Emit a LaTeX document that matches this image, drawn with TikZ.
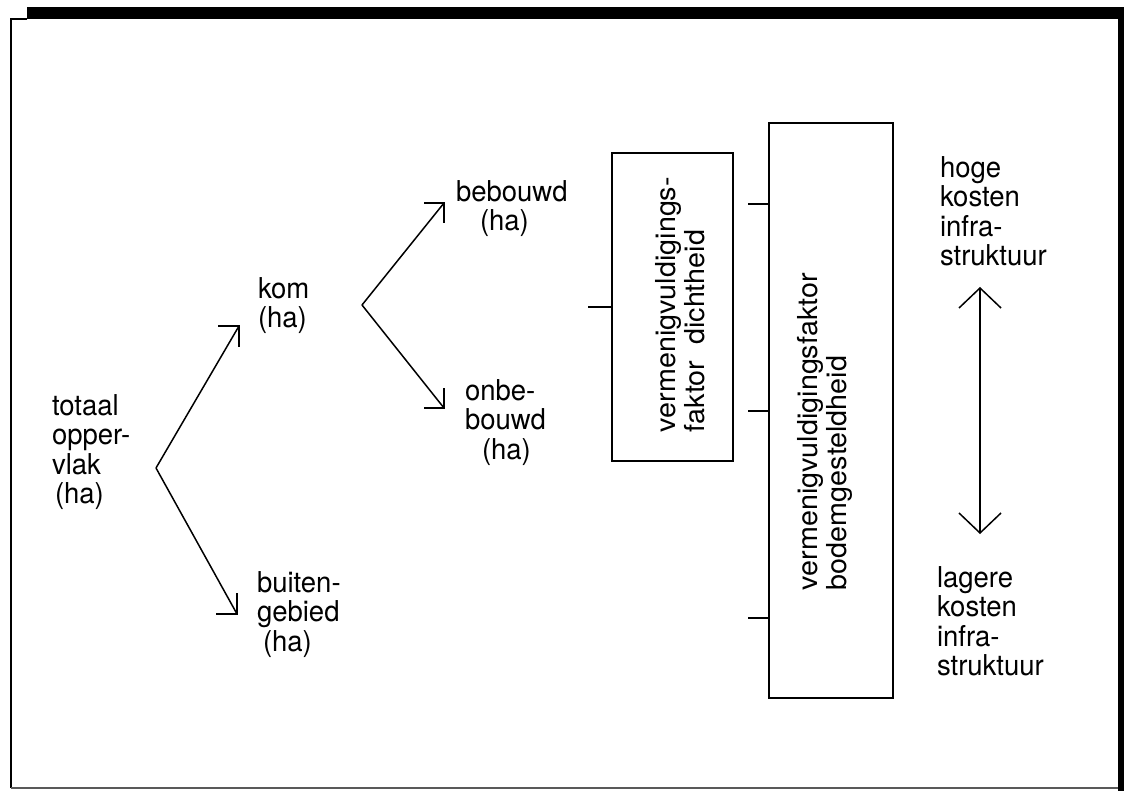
\documentclass[tikz,border=0pt]{standalone}
\usepackage{fontspec}
\setmainfont{TeX Gyre Heros}
\usetikzlibrary{calc}
\begin{document}
\begin{tikzpicture}[x=1pt,y=-1pt,
  lbl/.style={anchor=north west, inner sep=0pt, outer sep=0pt, align=left,
              yscale=1.045, font=\fontsize{27.5}{28.2}\selectfont},
  vlbl/.style={anchor=north west, inner sep=0pt, outer sep=0pt, align=left,
               rotate=90, xscale=1.045, font=\fontsize{27.5}{29.5}\selectfont},
  factorbox/.style={draw, line width=1.8pt, inner sep=0pt, outer sep=0pt},
  link/.style={line width=1.5pt, line join=miter}]
  % page and frame
  \useasboundingbox (0,0) rectangle (1124,791);
  \fill[white] (0,0) rectangle (1124,791);
  \fill[black] (27,7) rectangle (1124,19);
  \draw[line width=2pt] (27,19) -- (11,19) -- (11,788);
  \draw[line width=2pt, black!65] (11,788) -- (1120,788);
  \fill[black] (1118,7) rectangle (1124,791);

  % labels
  \node[lbl] (total) at (52,394.5) {totaal\\opper-\\vlak\\\hspace{3pt}(ha)};
  \node[lbl] (kom) at (258,277.5) {kom\\(ha)};
  \node[lbl] (buiten) at (257,571.5) {buiten-\\gebied\\\hspace{6pt}(ha)};
  \node[lbl] (bebouwd) at (456,180.5) {bebouwd\\\hspace{24pt}(ha)};
  \node[lbl] (onbebouwd) at (465,379.5) {onbe-\\bouwd\\\hspace{17pt}(ha)};
  \node[lbl] (hoge) at (940,156.5) {hoge\\kosten\\infra-\\struktuur};
  \node[lbl] (lagere) at (937,566.5) {lagere\\kosten\\infra-\\struktuur};

  % factor boxes with their rotated captions
  \node[factorbox, minimum width=121pt, minimum height=308pt] (dicht) at (672.5,307) {};
  \node[factorbox, minimum width=124pt, minimum height=575pt] (bodem) at (831,410.5) {};
  \node[vlbl] (tdicht) at (655,432) {vermenigvuldigings-\\faktor\ \ dichtheid};
  \node[vlbl] (tbodem) at (797,590) {vermenigvuldigingsfaktor\\bodemgesteldheid};

  % inputs into the boxes
  \coordinate (s0) at (588,307);
  \coordinate (s1) at (748,204);
  \coordinate (s2) at (748,411);
  \coordinate (s3) at (748,618);
  \draw[link] (s0) -- (s0 -| dicht.west);
  \draw[link] (s1) -- (s1 -| bodem.west);
  \draw[link] (s2) -- (s2 -| bodem.west);
  \draw[link] (s3) -- (s3 -| bodem.west);

  % split of the total area
  \coordinate (v1) at (156,468);
  \coordinate (t1) at (239,326);
  \coordinate (t2) at (237,614);
  \draw[link] (v1) -- (t1);
  \draw[link] (t1) ++(-21,0) -- (t1) -- ++(0,21);
  \draw[link] (v1) -- (t2);
  \draw[link] (t2) ++(-21,0) -- (t2) -- ++(0,-21);

  % split of the built-up area
  \coordinate (v2) at (362,305);
  \coordinate (t3) at (444,203);
  \coordinate (t4) at (444,408);
  \draw[link] (v2) -- (t3);
  \draw[link] (t3) ++(-20,0) -- (t3) -- ++(0,20);
  \draw[link] (v2) -- (t4);
  \draw[link] (t4) ++(-20,0) -- (t4) -- ++(0,-20);

  % cost range
  \coordinate (a1) at (980,288);
  \coordinate (a2) at (980,533);
  \draw[link] (a1) -- (a2);
  \draw[link] (a1) ++(-21,20) -- (a1) -- ++(21,20);
  \draw[link] (a2) ++(-21,-20) -- (a2) -- ++(21,-20);
\end{tikzpicture}
\end{document}
